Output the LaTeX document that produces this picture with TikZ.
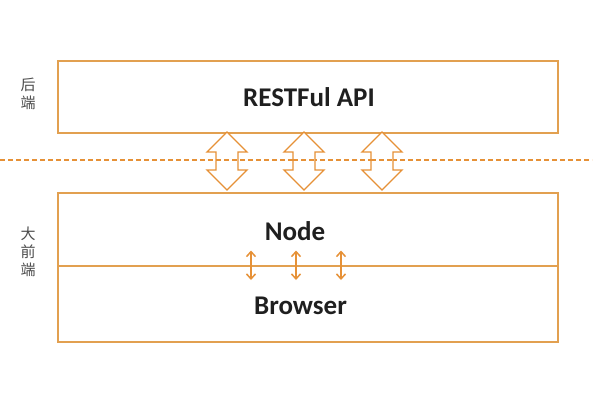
\documentclass[tikz,border=0pt]{standalone}
\usepackage{fontspec}
\usetikzlibrary{arrows.meta}
\setmainfont{Carlito}
\newfontfamily\cjk{Noto Sans CJK SC}
\definecolor{boxor}{RGB}{226,160,80}
\definecolor{arror}{RGB}{230,145,55}
\begin{document}
\begin{tikzpicture}[x=1pt,y=-1pt,
  layer/.style={draw=boxor,line width=1.6pt},
  big/.style={font=\bfseries\fontsize{27}{30}\selectfont,text=black!88,anchor=base,inner sep=0},
  side/.style={font=\cjk\fontsize{15}{18}\selectfont,text=black!70,align=center},
  dbl/.style={draw=arror,line width=1.3pt,fill=white,line join=miter},
  sm/.style={draw=arror,line width=1.5pt,{Straight Barb[length=5pt,width=9pt]}-{Straight Barb[length=5pt,width=9pt]}}]
\useasboundingbox (0,0) rectangle (600,400);
\node[layer,minimum width=500pt,minimum height=72pt,anchor=north west,inner sep=0] (api) at (57,60) {};
\node[layer,minimum width=500pt,minimum height=149pt,anchor=north west,inner sep=0] (fe) at (57,192) {};
\coordinate (ml) at (57,266);
\coordinate (mr) at (557,266);
\draw[draw=boxor,line width=1.6pt] (ml) -- (mr);
\coordinate (dl) at (0,160);
\coordinate (dr) at (592,160);
\draw[arror,line width=1.3pt,dash pattern=on 5pt off 3pt] (dl) -- (dr);
\foreach \x/\n in {227/a,304/b,382/c}{
  \draw[dbl] (\x,132) -- (\x+20,152) -- (\x+11,152) -- (\x+11,170) -- (\x+20,170) -- (\x,190) -- (\x-20,170) -- (\x-11,170) -- (\x-11,152) -- (\x-20,152) -- cycle;
  \draw[arror,line width=1.3pt,dash pattern=on 5pt off 3pt] (\x-11,160) -- (\x+11,160);
}
\node[big] (t1) at (309,106.7) {RESTFul API};
\node[big] (t2) at (295,240) {Node};
\node[big] (t3) at (300.5,314) {Browser};
\node[side] (s1) at (28,93.5) {后\\端};
\node[side] (s2) at (28,252) {大\\前\\端};
\foreach \x/\n in {251/p,296/q,341/r}{
  \coordinate (\n1) at (\x,250.5);
  \coordinate (\n2) at (\x,280);
  \draw[sm] (\n1) -- (\n2);
}
\end{tikzpicture}
\end{document}
